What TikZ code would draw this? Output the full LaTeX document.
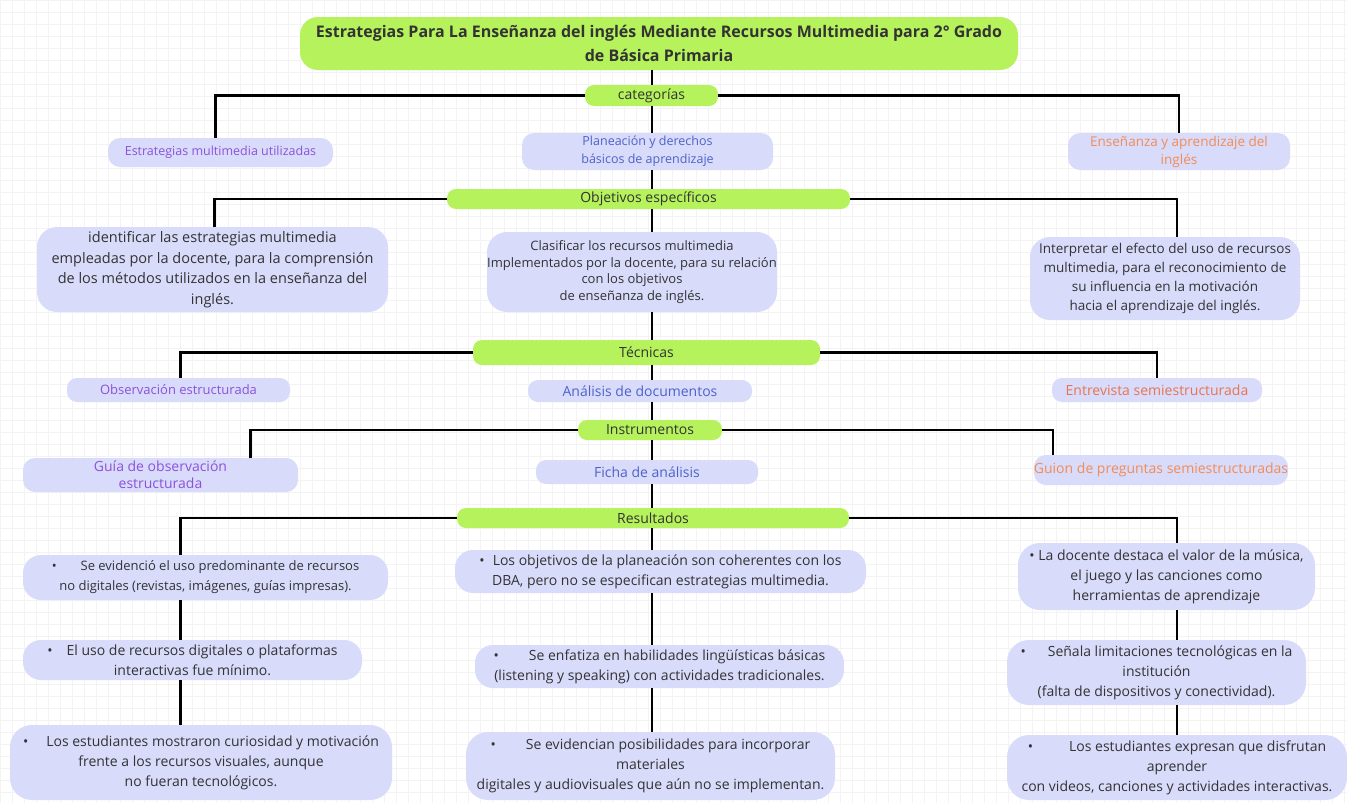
\documentclass[tikz,border=0pt]{standalone}
\usepackage{fontspec}
\setmainfont{Open Sans}
\definecolor{lime}{HTML}{B5F25C}
\definecolor{lav}{HTML}{D9DBFB}
\definecolor{txt}{HTML}{333333}
\definecolor{purp}{HTML}{8C52D9}
\definecolor{blu}{HTML}{4D63C8}
\definecolor{orng}{HTML}{F28C55}
\definecolor{redo}{HTML}{E8744F}
\definecolor{gridc}{HTML}{F3F3F3}
\tikzset{
  gbox/.style={fill=lime, rounded corners=9pt, inner sep=0pt, text=txt, align=center, font=\fontsize{14}{20}\selectfont},
  lbox/.style={fill=lav, rounded corners=12pt, inner sep=0pt, text=txt, align=center, font=\fontsize{14}{20}\selectfont},
  conn/.style={draw=black, line width=2.6pt},
}
\begin{document}
\begin{tikzpicture}[x=1pt,y=-1pt]
\useasboundingbox (0,0) rectangle (1347,803);
\fill[white] (0,0) rectangle (1347,803);
\draw[gridc, line width=0.4pt, step=12pt] (0,0) grid (1347,803);
\coordinate (trunk) at (652,0);
% ---- nodes
\node[gbox, minimum width=718, minimum height=53, rounded corners=18pt, font=\bfseries\fontsize{16}{24}\selectfont] (title) at (659,43.5)
  {Estrategias Para La Enseñanza del inglés Mediante Recursos Multimedia para 2° Grado\\de Básica Primaria};
\node[gbox, minimum width=133, minimum height=21] (categ) at (651.5,95.5) {categorías};
\node[lbox, minimum width=225, minimum height=29, text=purp, font=\fontsize{12.5}{18}\selectfont] (strat) at (220.5,152.5) {Estrategias multimedia utilizadas};
\node[lbox, minimum width=251, minimum height=37, text=blu, font=\fontsize{12.5}{18}\selectfont] (plan) at (647.5,151.5) {Planeación y derechos\\básicos de aprendizaje};
\node[lbox, minimum width=222, minimum height=37, text=orng, font=\fontsize{13.5}{18}\selectfont] (ens) at (1179,151.5) {Enseñanza y aprendizaje del\\inglés};
\node[gbox, minimum width=403, minimum height=20] (objet) at (648.5,199) {Objetivos específicos};
\node[lbox, minimum width=351, minimum height=85, rounded corners=20pt, font=\fontsize{14.5}{20.5}\selectfont] (ident) at (212.5,269.5)
  {identificar las estrategias multimedia\\empleadas por la docente, para la comprensión\\de los métodos utilizados en la enseñanza del\\inglés.};
\node[lbox, minimum width=290, minimum height=80, rounded corners=20pt, font=\fontsize{13}{16.5}\selectfont] (clasif) at (632,272)
  {Clasificar los recursos multimedia\\Implementados por la docente, para su relación\\con los objetivos\\de enseñanza de inglés.};
\node[lbox, minimum width=270, minimum height=83, rounded corners=20pt, font=\fontsize{13.5}{19}\selectfont] (interp) at (1165,278.5)
  {Interpretar el efecto del uso de recursos\\multimedia, para el reconocimiento de\\su influencia en la motivación\\hacia el aprendizaje del inglés.};
\node[gbox, minimum width=347, minimum height=25] (tecn) at (646.5,352.5) {Técnicas};
\node[lbox, minimum width=223, minimum height=24, text=purp, rounded corners=10pt, font=\fontsize{13}{18}\selectfont] (obs) at (178.5,390) {Observación estructurada};
\node[lbox, minimum width=224, minimum height=22, text=blu, rounded corners=10pt] (anal) at (640,391) {Análisis de documentos};
\node[lbox, minimum width=210, minimum height=24, text=redo, rounded corners=10pt] (entr) at (1157,390) {Entrevista semiestructurada};
\node[gbox, minimum width=144, minimum height=20] (instr) at (650,430) {Instrumentos};
\node[lbox, minimum width=275, minimum height=34, text=purp, font=\fontsize{14}{17}\selectfont] (guia) at (160.5,475) {Guía de observación\\estructurada};
\node[lbox, minimum width=222, minimum height=24, text=blu, rounded corners=10pt] (ficha) at (647,472) {Ficha de análisis};
\node[lbox, minimum width=252, minimum height=30, text=orng] (guion) at (1161,470) {Guion de preguntas semiestructuradas};
\node[gbox, minimum width=392, minimum height=20] (result) at (653,518) {Resultados};
% left results
\node[lbox, minimum width=365, minimum height=45, rounded corners=18pt, font=\fontsize{13}{20}\selectfont] (r1) at (205.5,577.5)
  {\textbullet\hspace{24pt}Se evidenció el uso predominante de recursos\\no digitales (revistas, imágenes, guías impresas).};
\node[lbox, minimum width=339, minimum height=40, rounded corners=18pt] (r2) at (192.5,660)
  {\textbullet\hspace{14pt}El uso de recursos digitales o plataformas\\interactivas fue mínimo.};
\node[lbox, minimum width=382, minimum height=75, rounded corners=22pt] (r3) at (201,762.5)
  {\textbullet\hspace{18pt}Los estudiantes mostraron curiosidad y motivación\\frente a los recursos visuales, aunque\\no fueran tecnológicos.};
% center results
\node[lbox, minimum width=411, minimum height=43, rounded corners=18pt] (c1) at (660.5,571.5)
  {\textbullet\hspace{8pt}Los objetivos de la planeación son coherentes con los\\DBA, pero no se especifican estrategias multimedia.};
\node[lbox, minimum width=369, minimum height=43, rounded corners=18pt] (c2) at (659.5,666.5)
  {\textbullet\hspace{30pt}Se enfatiza en habilidades lingüísticas básicas\\(listening y speaking) con actividades tradicionales.};
\node[lbox, minimum width=369, minimum height=68, rounded corners=22pt] (c3) at (650.5,766)
  {\textbullet\hspace{30pt}Se evidencian posibilidades para incorporar\\materiales\\digitales y audiovisuales que aún no se implementan.};
% right results
\node[lbox, minimum width=297, minimum height=67, rounded corners=22pt] (d1) at (1166.5,576.5)
  {\textbullet\ La docente destaca el valor de la música,\\el juego y las canciones como\\herramientas de aprendizaje};
\node[lbox, minimum width=299, minimum height=65, rounded corners=22pt] (d2) at (1156.5,672.5)
  {\textbullet\hspace{22pt}Señala limitaciones tecnológicas en la\\institución\\(falta de dispositivos y conectividad).};
\node[lbox, minimum width=340, minimum height=65, rounded corners=22pt] (d3) at (1177,767.5)
  {\textbullet\hspace{36pt}Los estudiantes expresan que disfrutan\\aprender\\con videos, canciones y actividades interactivas.};
% ---- connectors
\draw[conn] (title.south -| trunk) -- (categ.north -| trunk);
\draw[conn] (categ.south -| trunk) -- (plan.north -| trunk);
\draw[conn] (plan.south -| trunk) -- (objet.north -| trunk);
\draw[conn] (objet.south -| trunk) -- (clasif.north -| trunk);
\draw[conn] (clasif.south -| trunk) -- (tecn.north -| trunk);
\draw[conn] (tecn.south -| trunk) -- (anal.north -| trunk);
\draw[conn] (anal.south -| trunk) -- (instr.north -| trunk);
\draw[conn] (instr.south -| trunk) -- (ficha.north -| trunk);
\draw[conn] (ficha.south -| trunk) -- (result.north -| trunk);
\draw[conn] (result.south -| trunk) -- (c1.north -| trunk);
\draw[conn] (c1.south -| trunk) -- (c2.north -| trunk);
\draw[conn] (c2.south -| trunk) -- (c3.north -| trunk);
\draw[conn] (categ.west) -| ([xshift=-5pt]strat.north);
\draw[conn] (categ.east) -| (ens.north);
\draw[conn] (objet.west) -| ([xshift=2pt]ident.north);
\draw[conn] (objet.east) -| ([xshift=12pt]interp.north);
\draw[conn] (tecn.west) -| ([xshift=2pt]obs.north);
\draw[conn] (tecn.east) -| (entr.north);
\draw[conn] (instr.west) -| ([xshift=90pt]guia.north);
\draw[conn] (instr.east) -| ([xshift=-108pt]guion.north);
\draw[conn] (result.west) -| ([xshift=-25pt]r1.north);
\draw[conn] ([xshift=-25pt]r1.south) -- ([xshift=-25pt]r1.south |- r2.north);
\draw[conn] ([xshift=-25pt]r1.south |- r2.south) -- ([xshift=-25pt]r1.south |- r3.north);
\draw[conn] (result.east) -| ([xshift=10.5pt]d1.north);
\draw[conn] ([xshift=10.5pt]d1.south) -- ([xshift=10.5pt]d1.south |- d2.north);
\draw[conn] ([xshift=10.5pt]d1.south |- d2.south) -- ([xshift=10.5pt]d1.south |- d3.north);
\end{tikzpicture}
\end{document}
